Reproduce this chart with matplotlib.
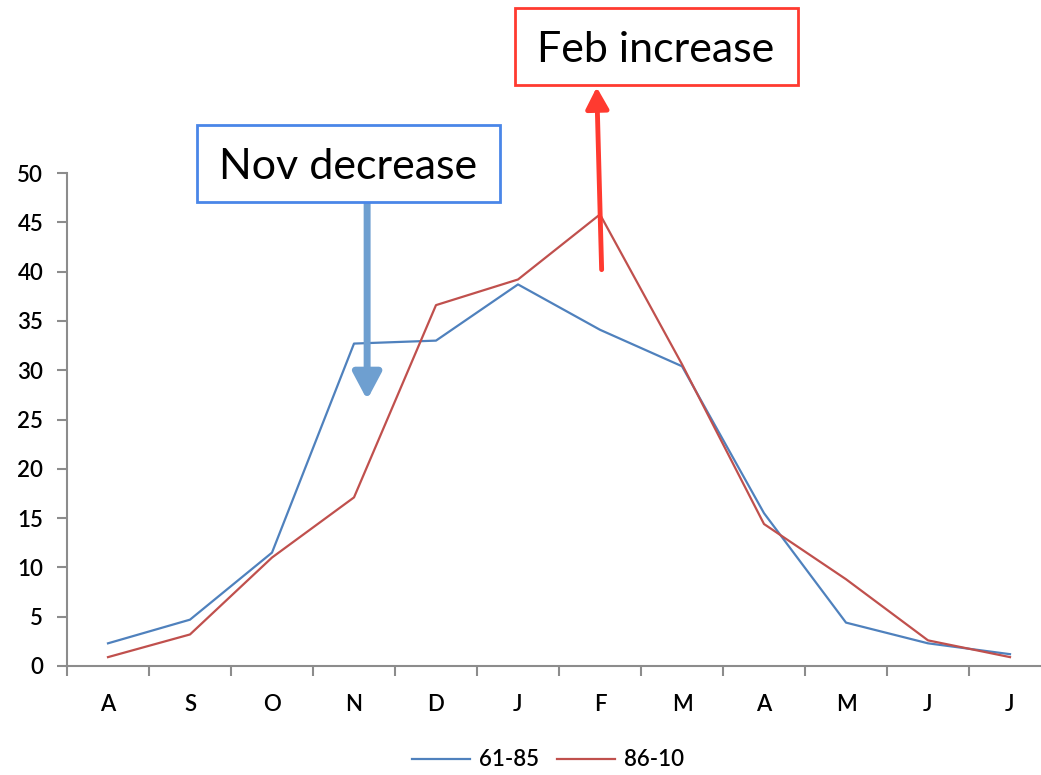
import matplotlib
matplotlib.use("Agg")
import matplotlib.pyplot as plt
from matplotlib.patches import Rectangle

months = ["A", "S", "O", "N", "D", "J", "F", "M", "A", "M", "J", "J"]
p_61_85 = [2.3, 4.7, 11.5, 32.7, 33.0, 38.7, 34.1, 30.4, 15.5, 4.4, 2.3, 1.2]
p_86_10 = [0.9, 3.2, 11.0, 17.1, 36.6, 39.2, 45.8, 30.6, 14.4, 8.8, 2.6, 0.9]
yticks = list(range(0, 51, 5))

BLUE = "#4f81bd"
RED = "#c0504d"
GREY = "#8c8c8c"

plt.rcParams["font.family"] = ["Lato", "DejaVu Sans"]

fig = plt.figure(figsize=(10.41, 7.75), dpi=100)
ax = fig.add_axes([67 / 1041, 109 / 775, 984 / 1041, 493 / 775])

x = list(range(len(months)))
ax.plot(x, p_61_85, color=BLUE, lw=1.6, label="61-85")
ax.plot(x, p_86_10, color=RED, lw=1.6, label="86-10")

ax.set_xlim(-0.5, len(months) - 0.5)
ax.set_ylim(0, 50)
ax.set_yticks(yticks)
ax.set_xticks([i - 0.5 for i in range(len(months) + 1)])
ax.set_xticklabels([])
ax.set_xticks(x, minor=True)
ax.set_xticklabels(months, minor=True)
ax.tick_params(axis="x", which="minor", length=0, pad=20, labelsize=16)
ax.tick_params(axis="x", which="major", length=7, color=GREY, width=1.5)
ax.tick_params(axis="y", length=7, color=GREY, width=1.5, labelsize=16, pad=10)
for lbl in ax.get_xticklabels(minor=True) + ax.get_yticklabels():
    lbl.set_fontweight("semibold")

for s in ["top", "right"]:
    ax.spines[s].set_visible(False)
for s in ["left", "bottom"]:
    ax.spines[s].set_color(GREY)
    ax.spines[s].set_linewidth(1.5)

# arrows
ax.annotate("", xy=(3.16, 27.0), xytext=(3.16, 47.0),
            arrowprops=dict(arrowstyle="-|>,head_length=1.6,head_width=0.85",
                            color="#6e9fd0", lw=5, shrinkA=0, shrinkB=0),
            annotation_clip=False)
ax.annotate("", xy=(5.96, 58.7), xytext=(6.02, 40.2),
            arrowprops=dict(arrowstyle="-|>,head_length=1.3,head_width=0.7",
                            color="#ff3a30", lw=3.5, shrinkA=0, shrinkB=0),
            annotation_clip=False)

# text boxes
fig.patches.append(Rectangle((197 / 1041, 1 - 202 / 775), 303 / 1041, 77 / 775,
                             transform=fig.transFigure, fill=True, facecolor="white",
                             edgecolor="#4a86e8", lw=2))
fig.text(348 / 1041, 1 - 167 / 775, "Nov decrease", ha="center", va="center", fontsize=31)
fig.patches.append(Rectangle((515 / 1041, 1 - 85 / 775), 283 / 1041, 77 / 775,
                             transform=fig.transFigure, fill=True, facecolor="white",
                             edgecolor="#ff3a30", lw=2))
fig.text(656 / 1041, 1 - 50 / 775, "Feb increase", ha="center", va="center", fontsize=31)

leg = fig.legend(loc="center", bbox_to_anchor=(548 / 1041, 1 - 760 / 775), ncol=2,
                 frameon=False, fontsize=16, handlelength=2.6, columnspacing=0.8,
                 handletextpad=0.4)
for t in leg.get_texts():
    t.set_fontweight("semibold")

fig.savefig("out.png", dpi=100)
